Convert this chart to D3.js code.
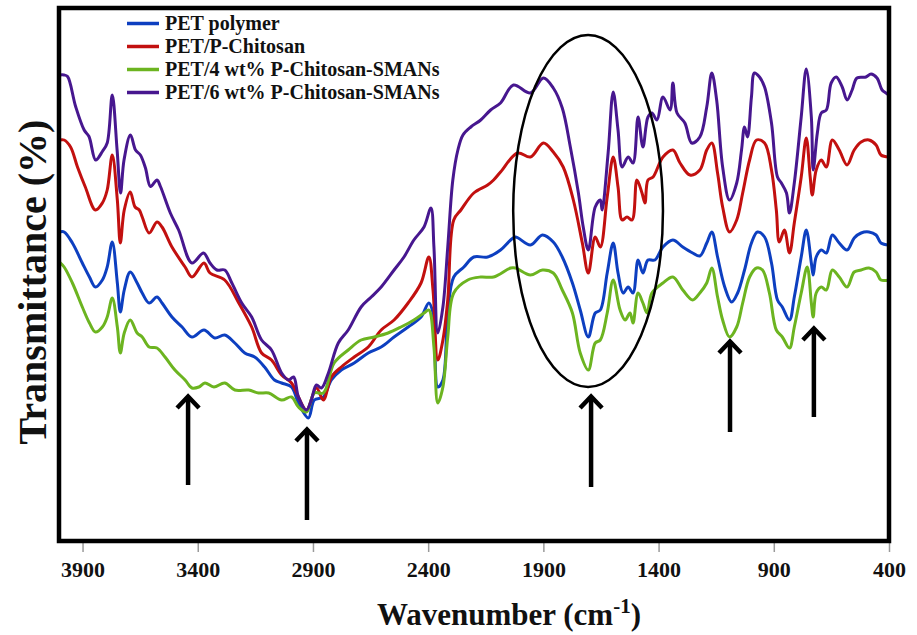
<!DOCTYPE html>
<html>
<head>
<meta charset="utf-8">
<script src="https://cdn.jsdelivr.net/npm/d3@7"></script>
<style>
    body { margin: 0; background: #fff; }
</style>
</head>
<body>
<div id="chart"></div>
<script>

// wavenumber (cm-1), transmittance (arbitrary %)
var petPolymer = [[4000,62.6],[3980,62.6],[3944,60.4],[3901,56.4],[3870,53.6],[3844,51.6],[3814,53],[3793,55.6],[3771,60.6],[3749,52.4],[3736,46.6],[3719,51],[3693,54.6],[3663,52.4],[3641,50.4],[3611,48.4],[3577,49.6],[3555,48.4],[3512,45.6],[3468,43.6],[3425,41.6],[3373,43],[3326,41.4],[3283,42],[3239,40.4],[3196,38.4],[3153,37.6],[3110,35.6],[3067,33],[3036,32.4],[2993,31.6],[2963,28.4],[2920,25.4],[2894,29],[2855,29.6],[2820,33],[2777,35],[2721,36.4],[2660,38.4],[2604,39.6],[2548,41.6],[2487,43.6],[2431,45.6],[2397,48.4],[2379,46.4],[2358,31.6],[2336,33],[2315,46.4],[2289,53.6],[2245,55.6],[2202,57.6],[2142,57.6],[2086,59],[2042,61],[2021,61.6],[1956,60],[1904,62],[1857,60.6],[1818,57.6],[1774,52.4],[1740,47],[1705,41.6],[1675,46.4],[1653,47],[1623,54.4],[1597,60.4],[1576,54.4],[1554,50.4],[1532,51.6],[1511,50.4],[1489,57],[1468,54.4],[1446,57],[1416,57],[1381,59.6],[1338,61],[1295,59.6],[1252,58.4],[1221,57.8],[1191,60.4],[1169,62.6],[1144,57.6],[1113,51.6],[1083,48.6],[1057,50.4],[1027,55],[997,60.4],[971,62.6],[940,61.6],[910,56.4],[884,49],[863,47.6],[832,45],[811,49.6],[781,57.6],[759,63],[737,56.4],[729,54],[716,57.6],[694,59],[672,58.4],[646,62],[616,60.4],[582,59],[551,61.4],[521,62.4],[487,62.6],[456,62],[435,60.4],[400,60]];

var petChitosan = [[4000,81],[3980,81],[3952,79.6],[3922,75.6],[3888,71.6],[3844,67],[3814,68.4],[3793,71],[3771,78],[3749,69],[3736,60.4],[3719,67],[3693,70.6],[3672,67.6],[3654,67],[3641,65.6],[3611,62.4],[3577,64.6],[3555,63.6],[3512,59.6],[3455,55.6],[3425,53.6],[3373,56.4],[3347,54.4],[3283,53],[3222,48.4],[3166,43.6],[3123,38.4],[3080,37],[3036,34],[2993,32.4],[2963,29.6],[2928,27],[2885,31.4],[2855,29],[2820,33.6],[2777,35.6],[2721,37.6],[2660,39.6],[2604,43],[2548,45],[2487,48.4],[2431,52.4],[2397,57.6],[2379,51],[2358,37],[2336,41],[2315,49],[2289,65],[2258,67],[2202,70.4],[2142,72],[2116,73],[2086,74.6],[2012,78.4],[1956,77.6],[1900,80.4],[1857,78.6],[1814,75.6],[1770,69],[1731,60.4],[1705,54.4],[1675,61.6],[1653,59.6],[1623,69.6],[1597,77.6],[1576,71.6],[1558,65],[1537,65.6],[1515,65],[1494,73],[1472,70.4],[1459,68.4],[1446,73],[1424,73.6],[1381,77.6],[1338,79],[1307,76.4],[1264,74],[1221,75],[1191,79],[1169,80.4],[1144,74.4],[1122,67.6],[1092,62.6],[1061,65],[1035,70.4],[1005,77],[975,81],[940,80.4],[910,75],[889,67],[876,60.6],[854,63],[832,58.4],[811,64.4],[781,73.6],[759,81.4],[742,73.6],[733,70],[716,75],[694,77],[672,75.6],[646,81],[616,79],[582,76],[551,79],[521,80.6],[487,81],[456,80],[435,78],[400,77.6]];

var pet4wt = [[4000,56.6],[3980,55.6],[3944,52.4],[3901,47.6],[3870,44.4],[3844,42.6],[3814,43.6],[3793,45.6],[3771,49.4],[3749,43.6],[3736,38.4],[3719,42.4],[3693,45],[3663,42.4],[3641,41.6],[3611,39.6],[3577,39.4],[3542,37.6],[3499,35],[3455,33],[3425,31.4],[3395,31.6],[3369,32.4],[3330,31.6],[3283,32.4],[3239,31],[3179,31],[3136,30.4],[3092,30.4],[3036,29],[2993,29.6],[2963,27.6],[2928,26.6],[2894,30.4],[2855,30.4],[2808,36.4],[2747,39],[2691,41],[2634,41.6],[2574,42.4],[2518,43.6],[2462,45],[2418,46.4],[2397,47],[2375,39.6],[2358,28.4],[2336,31.6],[2315,41.6],[2289,50.4],[2228,53],[2172,53.6],[2116,53.6],[2042,55.4],[2021,55.4],[1956,54],[1904,55],[1857,54.4],[1818,51],[1774,46.4],[1740,38.4],[1705,35],[1675,40.4],[1653,41],[1623,46.4],[1597,53],[1567,47],[1545,45],[1524,46.4],[1511,44.4],[1489,50.4],[1468,48.4],[1450,46.4],[1429,50.4],[1381,52.4],[1338,53.6],[1295,51],[1252,49],[1221,50.4],[1191,52.4],[1169,55.4],[1144,49.6],[1122,45],[1092,41.6],[1061,43.6],[1035,48.4],[1005,53.6],[975,55.4],[949,55],[919,50.4],[889,43],[863,41.6],[832,39.4],[811,43.6],[781,50.4],[755,55.6],[737,48.4],[729,45.6],[716,50.4],[694,51.6],[672,51],[646,55],[616,53.6],[582,51.6],[551,54.6],[521,55],[487,55.4],[456,54.6],[435,53],[400,53]];

var pet6wt = [[4000,94],[3980,94],[3965,93.7],[3930,87.7],[3893,83],[3872,81.7],[3843,77],[3814,78.7],[3793,80.4],[3771,90],[3750,79],[3735,70.4],[3720,77],[3692,82],[3670,79],[3649,78],[3627,75.4],[3605,71.7],[3577,73],[3562,71.7],[3519,66.4],[3483,63],[3425,56.4],[3375,58.4],[3347,56.4],[3317,55],[3283,55],[3252,52.4],[3209,48.4],[3166,45.6],[3123,41],[3080,39],[3036,34.4],[3006,33],[2984,33.6],[2963,29.6],[2928,27],[2907,29],[2885,32],[2863,31.4],[2833,34.4],[2790,40.4],[2747,43],[2691,47.6],[2647,49.6],[2604,51.6],[2548,55],[2505,57.6],[2462,61],[2418,63.6],[2388,67.4],[2375,59.6],[2358,42.4],[2336,47.6],[2315,59.6],[2293,73],[2271,79],[2249,82],[2215,83.6],[2172,85],[2129,87],[2086,88.4],[2030,92],[1956,90.4],[1900,93.4],[1857,91.4],[1818,87.4],[1783,79.6],[1748,70.4],[1727,63.6],[1705,59],[1675,67.6],[1653,69],[1645,67],[1619,78.4],[1597,90.6],[1576,83],[1558,75.6],[1532,77.6],[1511,76.4],[1489,85.6],[1468,79.6],[1446,85.6],[1429,86.4],[1407,85],[1381,89.6],[1350,87],[1338,92.4],[1320,86.4],[1286,84.4],[1256,80.4],[1221,81.6],[1191,87.6],[1169,94.4],[1148,89],[1122,75.6],[1092,69],[1061,72.4],[1040,79],[1027,83.6],[1014,81.6],[997,89.6],[984,94.4],[962,93.6],[940,91.6],[910,84.4],[884,73.6],[867,72.4],[845,70.4],[832,66.4],[811,72.4],[781,85.6],[759,95.2],[737,85.6],[729,75],[711,82.4],[694,86.4],[672,87],[651,92.4],[629,93.6],[603,91.6],[582,89],[560,91],[539,93.4],[500,93.6],[478,94.2],[452,93.4],[430,91],[413,90.4],[400,90]];

var seriesNames = ["PET polymer", "PET/P-Chitosan", "PET/4 wt% P-Chitosan-SMANs", "PET/6 wt% P-Chitosan-SMANs"];
var seriesData = [petPolymer, petChitosan, pet4wt, pet6wt];
var seriesColors = ["#0d3fc0", "#c2100f", "#6cb420", "#47178f"];

var xTicks = [3900, 3400, 2900, 2400, 1900, 1400, 900, 400];

// marked bands: arrow x, tip and tail transmittance
var arrowWavenumbers = [3442, 2926, 1693, 1090, 726];
var arrowTips = [30, 23.4, 30, 41, 43.6];
var arrowTails = [12, 5, 11.6, 22.6, 25.6];

// carbonyl region circled
var ellipseCenter = [1706, 66.8];
var ellipseRadii = [325, 35.2];

var width = 917, height = 635;
var plot = { left: 59, right: 889, top: 8, bottom: 541 };
var serifFont = "Liberation Serif";

var svg = d3.select("#chart").append("svg")
    .attr("width", width)
    .attr("height", height)
    .attr("font-family", serifFont)
    .attr("font-weight", "bold");

var x = d3.scaleLinear()
    .domain([4000, 400])   // reversed wavenumber axis
    .range([59.5, plot.right]);

var y = d3.scaleLinear()
    .domain([0.8, 107.4])
    .range([plot.bottom, plot.top]);

var line = d3.line()
    .x(function (d) { return x(d[0]); })
    .y(function (d) { return y(d[1]); })
    .curve(d3.curveCatmullRom.alpha(0.5));

// spectra
seriesData.forEach(function (data, i) {
    svg.append("path")
        .datum(data)
        .attr("fill", "none")
        .attr("stroke", seriesColors[i])
        .attr("stroke-width", 3)
        .attr("stroke-linejoin", "round")
        .attr("d", line);
});

// x axis, ticks hang under the frame
var xAxis = svg.append("g")
    .attr("transform", "translate(0," + plot.bottom + ")")
    .call(d3.axisBottom(x).tickValues(xTicks).tickSize(11).tickPadding(9).tickFormat(d3.format("d")));
xAxis.attr("font-family", serifFont).attr("font-size", 22);
xAxis.select(".domain").remove();
xAxis.selectAll(".tick line").attr("stroke", "#9a9a9a").attr("stroke-width", 1.5);
xAxis.selectAll(".tick text")
    .attr("fill", "#111")
    .attr("font-family", serifFont)
    .attr("font-weight", "bold")
    .attr("font-size", 22);

// frame
svg.append("rect")
    .attr("x", plot.left)
    .attr("y", plot.top)
    .attr("width", plot.right - plot.left)
    .attr("height", plot.bottom - plot.top)
    .attr("fill", "none")
    .attr("stroke", "#000")
    .attr("stroke-width", 4.5);

// legend
var legend = svg.append("g");
seriesNames.forEach(function (name, i) {
    var ly = 23.5 + i * 23;
    legend.append("line")
        .attr("x1", 127).attr("x2", 159)
        .attr("y1", ly).attr("y2", ly)
        .attr("stroke", seriesColors[i])
        .attr("stroke-width", 3.5);
    legend.append("text")
        .attr("x", 165)
        .attr("y", ly + 6.5)
        .attr("font-family", serifFont)
        .attr("font-size", 20)
        .attr("fill", "#111")
        .text(name);
});

// ellipse around the C=O band
svg.append("ellipse")
    .attr("cx", x(ellipseCenter[0]))
    .attr("cy", y(ellipseCenter[1]))
    .attr("rx", x(ellipseCenter[0] - ellipseRadii[0]) - x(ellipseCenter[0]))
    .attr("ry", y(ellipseCenter[1] - ellipseRadii[1]) - y(ellipseCenter[1]))
    .attr("fill", "none")
    .attr("stroke", "#000")
    .attr("stroke-width", 2.5);

// arrows
arrowWavenumbers.forEach(function (w, i) {
    var ax = x(w), tip = y(arrowTips[i]), tail = y(arrowTails[i]);
    var g = svg.append("g").attr("stroke", "#000").attr("fill", "none").attr("stroke-width", 4.5);
    g.append("line")
        .attr("x1", ax).attr("x2", ax)
        .attr("y1", tail).attr("y2", tip + 2);
    g.append("path")
        .attr("stroke-linejoin", "miter")
        .attr("d", "M" + (ax - 11) + "," + (tip + 13) + "L" + ax + "," + (tip + 1.5) + "L" + (ax + 11) + "," + (tip + 13));
});

// axis titles
svg.append("text")
    .attr("transform", "translate(46,282) rotate(-90)")
    .attr("text-anchor", "middle")
    .attr("font-family", serifFont)
    .attr("font-size", 40)
    .attr("fill", "#111")
    .text("Transmittance (%)");

var xTitle = svg.append("text")
    .attr("x", 509)
    .attr("y", 625)
    .attr("text-anchor", "middle")
    .attr("font-family", serifFont)
    .attr("font-size", 31)
    .attr("fill", "#111");
xTitle.append("tspan").text("Wavenumber (cm");
xTitle.append("tspan").attr("dy", -12).attr("font-size", 21).text("-1");
xTitle.append("tspan").attr("dy", 12).text(")");

</script>
</body>
</html>
